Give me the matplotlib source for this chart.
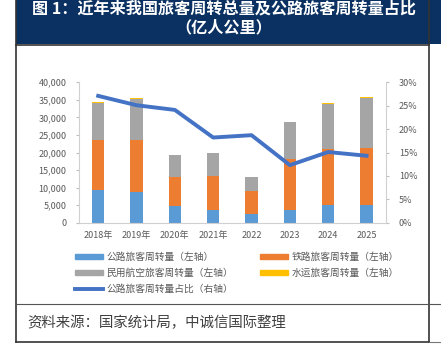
import matplotlib
matplotlib.use("Agg")
import matplotlib.pyplot as plt
from matplotlib.patches import Rectangle, Patch
from matplotlib.lines import Line2D
from matplotlib.ticker import FuncFormatter

plt.rcParams["font.family"] = ["Noto Sans CJK SC", "DejaVu Sans"]

# ── data (亿人公里) ─────────────────────────────────────────
years  = ["2018年", "2019年", "2020年", "2021年", "2022", "2023", "2024", "2025"]
road   = [9280, 8860, 4640, 3630, 2410, 3550, 5040, 5040]
rail   = [14150, 14710, 8270, 9570, 6580, 14600, 15860, 16360]
air    = [10710, 11710, 6310, 6530, 3910, 10450, 13000, 14200]
water  = [150, 150, 100, 100, 100, 150, 150, 150]
share  = [27.1, 25.1, 24.1, 18.2, 18.7, 12.3, 15.1, 14.3]   # %

C_ROAD, C_RAIL, C_AIR, C_WATER, C_LINE = "#5b9bd5", "#ed7d31", "#a5a5a5", "#ffc000", "#4472c4"
GREY_TXT = "#595959"
NAVY = "#0a3161"

W, H = 441, 352
fig = plt.figure(figsize=(W / 100, H / 100), dpi=100)
fig.patch.set_facecolor("white")

def fx(px):
    return px / W

def fy(py):
    return 1 - py / H

# ── frame + header ────────────────────────────────────────
fig.patches.append(Rectangle((fx(16), fy(44)), fx(441 - 16), 44 / H,
                             transform=fig.transFigure, facecolor=NAVY, edgecolor="none", zorder=0))
border = dict(transform=fig.transFigure, color="#333333", lw=1.2)
fig.add_artist(Line2D([fx(16), fx(16)], [fy(0), fy(341.5)], **border))
fig.add_artist(Line2D([fx(429), fx(429)], [fy(0), fy(341.5)], **border))
fig.add_artist(Line2D([fx(16), fx(429)], [fy(341.5), fy(341.5)], **border))
fig.add_artist(Line2D([fx(16), fx(429)], [fy(44.5), fy(44.5)], **border))
fig.add_artist(Line2D([fx(16), fx(441)], [fy(304), fy(304)], transform=fig.transFigure,
                      color="#555555", lw=0.8))
fig.add_artist(Line2D([fx(429), fx(441)], [fy(341.5), fy(341.5)], transform=fig.transFigure,
                      color="#777777", lw=0.8))

fig.text(fx(224), fy(8.5), "图 1：近年来我国旅客周转总量及公路旅客周转量占比",
         ha="center", va="center", color="white", fontsize=11.6, fontweight="bold")
fig.text(fx(224), fy(27), "（亿人公里）",
         ha="center", va="center", color="white", fontsize=11.6, fontweight="bold")

# ── main chart ───────────────────────────────────────────
ax = fig.add_axes([fx(79), fy(222.7), fx(385.7 - 79), (222.7 - 82.3) / H])
x = range(len(years))
bw = 0.32
ax.bar(x, road, bw, color=C_ROAD, zorder=2)
bot = list(road)
ax.bar(x, rail, bw, bottom=bot, color=C_RAIL, zorder=2)
bot = [a + b for a, b in zip(bot, rail)]
ax.bar(x, air, bw, bottom=bot, color=C_AIR, zorder=2)
bot = [a + b for a, b in zip(bot, air)]
ax.bar(x, water, bw, bottom=bot, color=C_WATER, zorder=2)

ax.set_xlim(-0.5, len(years) - 0.5)
ax.set_ylim(0, 40000)
ax.set_yticks(range(0, 40001, 5000))
ax.yaxis.set_major_formatter(FuncFormatter(lambda v, p: f"{int(v):,}"))
ax.set_xticks(list(x))
ax.set_xticklabels(years)
ax.tick_params(axis="both", labelsize=6.5, labelcolor=GREY_TXT, colors="#bfbfbf")
ax.tick_params(axis="x", length=0, pad=6)
ax.tick_params(axis="y", length=2, pad=7)
for s in ["top", "right"]:
    ax.spines[s].set_visible(False)
ax.spines["left"].set_color("#d0d0d0")
ax.spines["bottom"].set_color("#d0d0d0")
for lbl in ax.get_xticklabels() + ax.get_yticklabels():
    lbl.set_color(GREY_TXT)

ax2 = ax.twinx()
ax2.plot(list(x), share, color=C_LINE, lw=2.8, zorder=3, solid_joinstyle="round")
ax2.set_ylim(0, 30)
ax2.set_yticks(range(0, 31, 5))
ax2.yaxis.set_major_formatter(FuncFormatter(lambda v, p: f"{int(v)}%"))
ax2.tick_params(axis="y", labelsize=6.5, labelcolor=GREY_TXT, colors="#bfbfbf", length=2.5, pad=7)
for s in ["top", "left", "bottom"]:
    ax2.spines[s].set_visible(False)
ax2.spines["right"].set_color("#d0d0d0")
for lbl in ax2.get_yticklabels():
    lbl.set_color(GREY_TXT)

# ── legend ───────────────────────────────────────────────
handles = [Patch(color=C_ROAD), Patch(color=C_AIR),
           Line2D([], [], color=C_LINE, lw=2.8),
           Patch(color=C_RAIL), Patch(color=C_WATER)]
labels = ["公路旅客周转量（左轴）", "民用航空旅客周转量（左轴）", "公路旅客周转量占比（右轴）",
          "铁路旅客周转量（左轴）", "水运旅客周转量（左轴）"]
leg = fig.legend(handles, labels, ncol=2, loc="upper left",
                 bbox_to_anchor=(fx(75), fy(252)), frameon=False,
                 fontsize=7, handlelength=2.9, handleheight=0.45, handletextpad=0.3,
                 labelspacing=0.62, columnspacing=2.8, borderpad=0, borderaxespad=0)
for t in leg.get_texts():
    t.set_color(GREY_TXT)

# ── source ───────────────────────────────────────────────
fig.text(fx(27), fy(323), "资料来源：国家统计局，中诚信国际整理",
         ha="left", va="center", fontsize=10.4, style="italic", color="#404040")

fig.savefig("out.png", dpi=100, facecolor="white")
